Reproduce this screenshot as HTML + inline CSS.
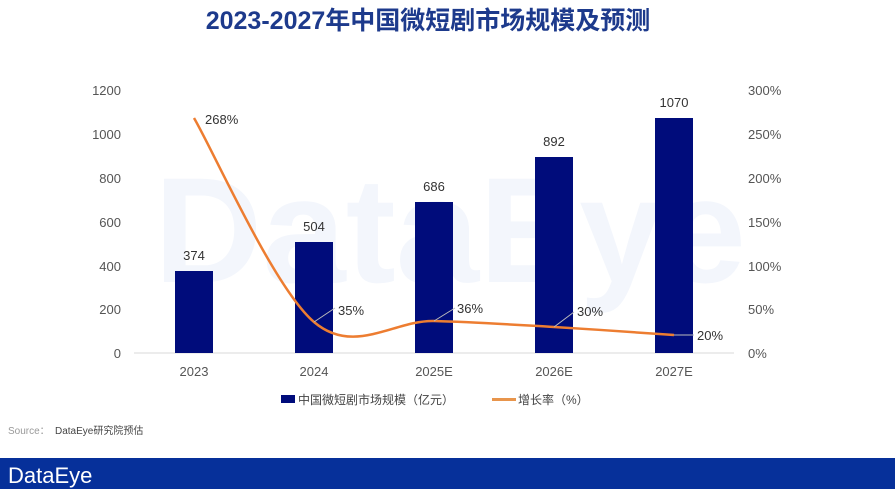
<!DOCTYPE html>
<html><head><meta charset="utf-8"><style>
body{margin:0;width:895px;height:489px;background:#fff;overflow:hidden;font-family:"Liberation Sans","Noto Sans CJK SC",sans-serif;}
</style></head><body>
<svg width="895" height="489" xmlns="http://www.w3.org/2000/svg" font-family="Liberation Sans, Noto Sans CJK SC, sans-serif">
<text x="428" y="29" text-anchor="middle" font-size="25" font-weight="bold" fill="#1d3a8c" font-family="Liberation Sans, Noto Sans CJK SC, sans-serif">2023-2027年中国微短剧市场规模及预测</text>
<text x="450" y="282" text-anchor="middle" font-size="150" font-weight="bold" fill="#f3f6fc">DataEye</text>
<g font-size="13" fill="#555">
<text x="121" y="95" text-anchor="end">1200</text>
<text x="121" y="139" text-anchor="end">1000</text>
<text x="121" y="183" text-anchor="end">800</text>
<text x="121" y="227" text-anchor="end">600</text>
<text x="121" y="271" text-anchor="end">400</text>
<text x="121" y="314" text-anchor="end">200</text>
<text x="121" y="358" text-anchor="end">0</text>
<text x="748" y="95">300%</text>
<text x="748" y="139">250%</text>
<text x="748" y="183">200%</text>
<text x="748" y="227">150%</text>
<text x="748" y="271">100%</text>
<text x="748" y="314">50%</text>
<text x="748" y="358">0%</text>
<text x="194" y="376" text-anchor="middle">2023</text>
<text x="314" y="376" text-anchor="middle">2024</text>
<text x="434" y="376" text-anchor="middle">2025E</text>
<text x="554" y="376" text-anchor="middle">2026E</text>
<text x="674" y="376" text-anchor="middle">2027E</text>
</g>
<line x1="134" y1="353" x2="734" y2="353" stroke="#d9d9d9"/>
<g fill="#000c7b">
<rect x="175" y="271" width="38" height="82"/>
<rect x="295" y="242" width="38" height="111"/>
<rect x="415" y="202" width="38" height="151"/>
<rect x="535" y="157" width="38" height="196"/>
<rect x="655" y="118" width="38" height="235"/>
</g>
<g font-size="13" fill="#333" text-anchor="middle">
<text x="194" y="260">374</text>
<text x="314" y="231">504</text>
<text x="434" y="191">686</text>
<text x="554" y="146">892</text>
<text x="674" y="107">1070</text>
</g>
<path d="M194,118 C214,152 274,288 314,322 C354,356 394,320 434,321 C474,322 514,324.7 554,327 C594,329.3 654,333.7 674,335" fill="none" stroke="#ed7d31" stroke-width="2.5"/>
<g stroke="#bbb" stroke-width="1">
<line x1="314" y1="322" x2="335" y2="308"/>
<line x1="434" y1="321" x2="455" y2="308"/>
<line x1="554" y1="327" x2="574" y2="312"/>
<line x1="674" y1="335" x2="694" y2="335"/>
</g>
<g font-size="13" fill="#333">
<text x="205" y="124">268%</text>
<text x="338" y="315">35%</text>
<text x="457" y="313">36%</text>
<text x="577" y="316">30%</text>
<text x="697" y="340">20%</text>
</g>
<rect x="281" y="395" width="14" height="8" fill="#000c7b"/>
<text x="298" y="404" font-size="12" fill="#444">中国微短剧市场规模（亿元）</text>
<rect x="492" y="398" width="24" height="3" fill="#e8954c"/>
<text x="518" y="404" font-size="12" fill="#444">增长率（%）</text>
<text x="8" y="434" font-size="10" fill="#999">Source：</text>
<text x="55" y="434" font-size="10" fill="#444">DataEye研究院预估</text>
<rect x="0" y="458" width="895" height="31" fill="#06309a"/>
<text x="8" y="483" font-size="22" fill="#fff">DataEye</text>
</svg>
</body></html>
